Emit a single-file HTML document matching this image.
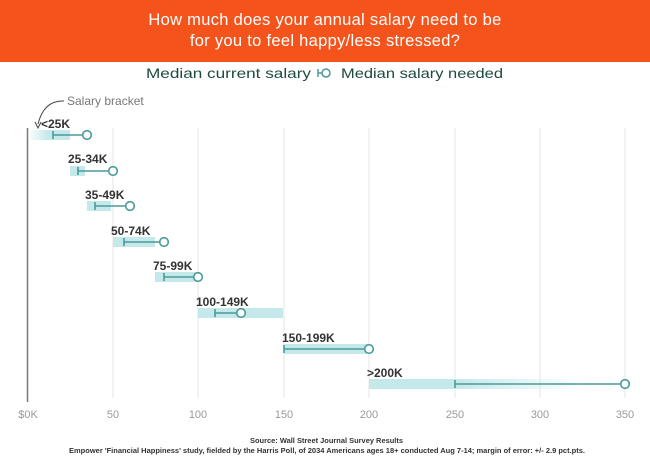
<!DOCTYPE html>
<html><head><style>
body{margin:0;width:650px;height:464px;background:#fff;overflow:hidden;font-family:"Liberation Sans",sans-serif}
.hdr{position:absolute;left:0;top:0;width:650px;height:62px;background:#f4531c;color:#fff;text-align:center;font-size:16.5px;line-height:21px;padding-top:10px;box-sizing:border-box;letter-spacing:0.3px}
</style></head><body>
<div class="hdr">How much does your annual salary need to be<br>for you to feel happy/less stressed?</div>
<svg width="650" height="464" style="position:absolute;left:0;top:0">
<defs>
<linearGradient id="g0" x1="0" x2="1"><stop offset="0" stop-color="#c5e8ea" stop-opacity="0"/><stop offset="0.5" stop-color="#c5e8ea"/></linearGradient>
<linearGradient id="g1" x1="0" x2="1"><stop offset="0" stop-color="#c5e8ea"/><stop offset="1" stop-color="#c5e8ea" stop-opacity="0"/></linearGradient>
</defs>
<text x="146" y="78" font-size="14" fill="#1f4a40" textLength="165" lengthAdjust="spacingAndGlyphs">Median current salary</text>
<g transform="translate(318,73)" stroke="#4a9a9a" stroke-width="1.5" fill="#fff"><line x1="0" y1="-4" x2="0" y2="4"/><line x1="0" y1="0" x2="4" y2="0"/><circle cx="8" cy="0" r="4"/></g>
<text x="341" y="78" font-size="14" fill="#1f4a40" textLength="162" lengthAdjust="spacingAndGlyphs">Median salary needed</text>
<text x="67" y="105" font-size="12" fill="#777">Salary bracket</text>
<path d="M64 101 Q44 100 38 124" stroke="#444" fill="none" stroke-width="1"/>
<path d="M35 122 L38 128 L41 122" stroke="#444" fill="none" stroke-width="1"/>
<g stroke="#e6e6e6" stroke-width="1">
<line x1="113" y1="128" x2="113" y2="398"/><line x1="198" y1="128" x2="198" y2="398"/><line x1="284" y1="128" x2="284" y2="398"/><line x1="369" y1="128" x2="369" y2="398"/><line x1="455" y1="128" x2="455" y2="398"/><line x1="540" y1="128" x2="540" y2="398"/><line x1="625" y1="128" x2="625" y2="398"/>
</g>
<line x1="27.5" y1="128" x2="27.5" y2="402" stroke="#777" stroke-width="1.5"/>
<g font-size="12" font-weight="bold" fill="#333">
<text x="41" y="128">&lt;25K</text><text x="68" y="163">25-34K</text><text x="85" y="199">35-49K</text><text x="111" y="235">50-74K</text><text x="153" y="270">75-99K</text><text x="196" y="306">100-149K</text><text x="282" y="342">150-199K</text><text x="367" y="377">&gt;200K</text>
</g>
<rect x="27" y="130" width="43" height="10" fill="url(#g0)"/>
<rect x="70" y="166" width="15" height="10" fill="#c5e8ea"/>
<rect x="87" y="201" width="24" height="10" fill="#c5e8ea"/>
<rect x="113" y="237" width="42" height="10" fill="#c5e8ea"/>
<rect x="155" y="272" width="42" height="10" fill="#c5e8ea"/>
<rect x="198" y="308" width="85" height="10" fill="#c5e8ea"/>
<rect x="284" y="344" width="83" height="10" fill="#c5e8ea"/>
<rect x="369" y="379" width="86" height="10" fill="#c5e8ea"/>
<rect x="455" y="379" width="130" height="10" fill="url(#g1)"/>
<g stroke="#4a9a9a" stroke-width="1.6" fill="#fff">
<line x1="53" y1="135" x2="83" y2="135"/><line x1="53" y1="131" x2="53" y2="139"/><circle cx="87" cy="135" r="4.3"/>
<line x1="78" y1="171" x2="109" y2="171"/><line x1="78" y1="167" x2="78" y2="175"/><circle cx="113" cy="171" r="4.3"/>
<line x1="95" y1="206" x2="126" y2="206"/><line x1="95" y1="202" x2="95" y2="210"/><circle cx="130" cy="206" r="4.3"/>
<line x1="124" y1="242" x2="160" y2="242"/><line x1="124" y1="238" x2="124" y2="246"/><circle cx="164" cy="242" r="4.3"/>
<line x1="164" y1="277" x2="194" y2="277"/><line x1="164" y1="273" x2="164" y2="281"/><circle cx="198" cy="277" r="4.3"/>
<line x1="215" y1="313" x2="237" y2="313"/><line x1="215" y1="309" x2="215" y2="317"/><circle cx="241" cy="313" r="4.3"/>
<line x1="284" y1="349" x2="365" y2="349"/><line x1="284" y1="345" x2="284" y2="353"/><circle cx="369" cy="349" r="4.3"/>
<line x1="455" y1="384" x2="621" y2="384"/><line x1="455" y1="380" x2="455" y2="388"/><circle cx="625" cy="384" r="4.3"/>
</g>
<g font-size="11" fill="#999" text-anchor="middle">
<text x="28" y="418">$0K</text><text x="113" y="418">50</text><text x="198" y="418">100</text><text x="284" y="418">150</text><text x="369" y="418">200</text><text x="455" y="418">250</text><text x="540" y="418">300</text><text x="625" y="418">350</text>
</g>
<g font-size="7" font-weight="bold" fill="#333">
<text x="250" y="443" textLength="153" lengthAdjust="spacingAndGlyphs">Source: Wall Street Journal Survey Results</text>
<text x="69" y="453" textLength="516" lengthAdjust="spacingAndGlyphs">Empower 'Financial Happiness' study, fielded by the Harris Poll, of 2034 Americans ages 18+ conducted Aug 7-14; margin of error: +/- 2.9 pct.pts.</text>
</g>
</svg>
</body></html>
